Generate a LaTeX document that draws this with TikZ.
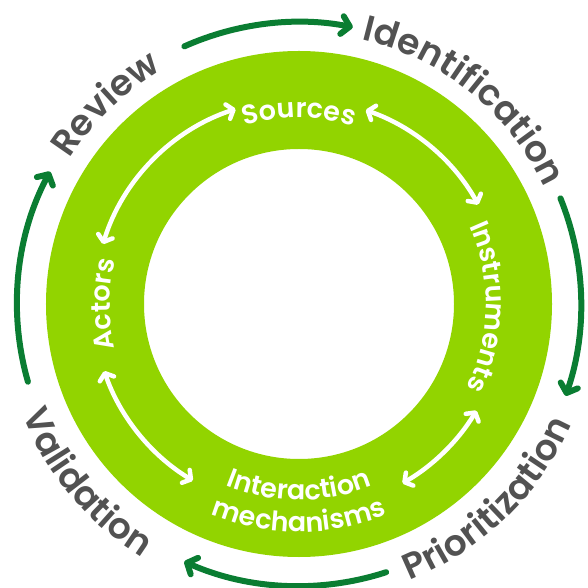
\documentclass[tikz,border=0pt]{standalone}
\usepackage{fontspec}
\setmainfont{Poppins}
\newfontfamily\semibold{Poppins SemiBold}
\usetikzlibrary{arrows.meta,decorations.text}
\definecolor{ringgreen}{RGB}{146,212,0}
\definecolor{cyclegreen}{RGB}{10,125,50}
\definecolor{labelgray}{RGB}{82,82,82}
\newcommand{\outerfont}{\fontsize{36}{36}\selectfont\semibold}
\newcommand{\innerfont}{\fontsize{27}{27}\selectfont\semibold}

\begin{document}
\begin{tikzpicture}[x=1pt,y=1pt,
  cycle/.style={line width=6pt,cyclegreen,line cap=round,-{Straight Barb[round,length=8pt,width=18pt]}},
  link/.style={line width=4.5pt,white,{Straight Barb[round,length=6pt,width=15pt]}-{Straight Barb[round,length=6pt,width=15pt]}},
  steplabel/.style={decorate,decoration={text along path,text align=center,text color=labelgray,text={|\outerfont|#1}}},
  partlabel/.style={decorate,decoration={text along path,text align=center,text color=white,text={|\innerfont|#1}}}]
  \useasboundingbox (-299,-284) rectangle (288,304);
  \coordinate (c) at (0,0);
  % ring
  \fill[ringgreen,even odd rule] (c) circle (253) (c) circle (155);
  % outer cycle
  \draw[cycle] (c) ++(114:282) arc[start angle=114,end angle=79,radius=282];
  \draw[cycle] (c) ++(22:282) arc[start angle=22,end angle=-19,radius=282];
  \draw[cycle] (c) ++(-72:282) arc[start angle=-72,end angle=-114,radius=282];
  \draw[cycle] (c) ++(196:282) arc[start angle=196,end angle=152,radius=282];
  \path[steplabel=Review] (c) ++(175:271) arc[start angle=175,end angle=93,radius=271];
  \path[steplabel=Identification] (c) ++(100:272) arc[start angle=100,end angle=2,radius=272];
  \path[steplabel=Prioritization] (c) ++(-95:298) arc[start angle=-95,end angle=3,radius=298];
  \path[steplabel=Validation] (c) ++(172:298) arc[start angle=172,end angle=268,radius=298];
  % inner links
  \draw[link] (c) ++(108:205) arc[start angle=108,end angle=163,radius=205];
  \draw[link] (c) ++(71:205) arc[start angle=71,end angle=29,radius=205];
  \draw[link] (c) ++(-31:207) arc[start angle=-31,end angle=-60,radius=207];
  \draw[link] (c) ++(199:206) arc[start angle=199,end angle=239,radius=206];
  \path[partlabel=Sources] (c) ++(135:186) arc[start angle=135,end angle=45,radius=186];
  \path[partlabel=Instruments] (c) ++(44:187) arc[start angle=44,end angle=-46,radius=187];
  \path[partlabel=Actors] (c) ++(225:189) arc[start angle=225,end angle=135,radius=189];
  \path[partlabel=Interaction] (c) ++(-135:196) arc[start angle=-135,end angle=-45,radius=196];
  \path[partlabel=mechanisms] (c) ++(-130:228) arc[start angle=-130,end angle=-50,radius=228];
\end{tikzpicture}
\end{document}
